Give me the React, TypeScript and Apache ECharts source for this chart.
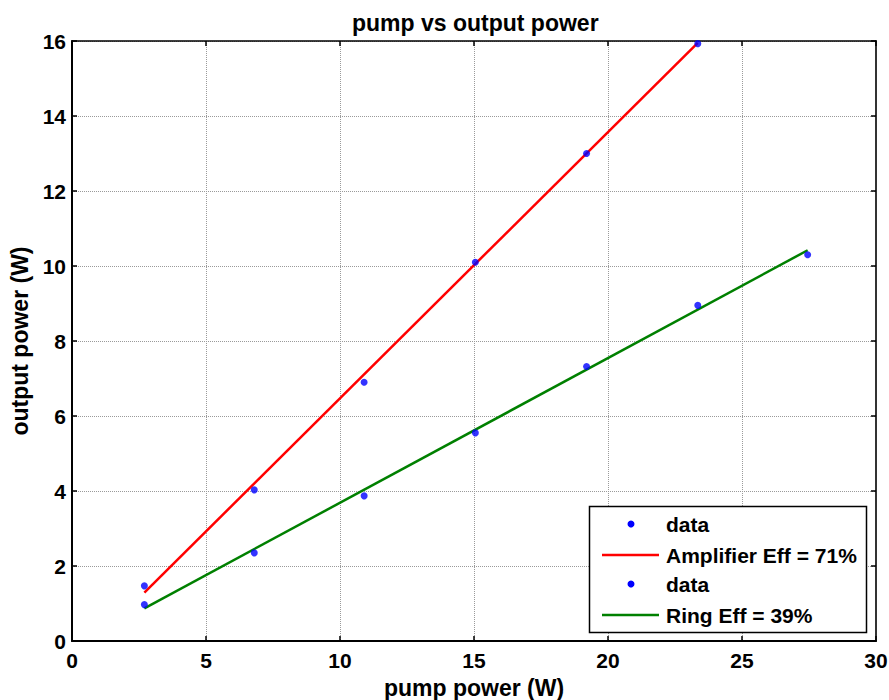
import React, { useEffect, useRef } from "react";
import * as echarts from "echarts";

const ampPump = [2.7, 6.8, 10.9, 15.05, 19.2, 23.35];
const ampOut = [1.47, 4.03, 6.9, 10.1, 13.0, 15.93];
const ringPump = [2.7, 6.8, 10.9, 15.05, 19.2, 23.35, 27.45];
const ringOut = [0.97, 2.35, 3.87, 5.55, 7.32, 8.95, 10.3];
const ampFitX = [2.7, 23.35];
const ampFitY = [1.29, 15.95];
const ringFitX = [2.7, 27.45];
const ringFitY = [0.87, 10.42];
const legendLabels = ["data", "Amplifier Eff = 71%", "data", "Ring Eff = 39%"];

const FONT = "'Liberation Sans', Arial, Helvetica, sans-serif";

export default function App() {
  const ref = useRef<HTMLDivElement>(null);
  useEffect(() => {
    if (!ref.current) return;
    const chart = echarts.init(ref.current, undefined, { renderer: "svg" });
    const zip = (xs: number[], ys: number[]) => xs.map((x, i) => [x, ys[i]]);
    const gridLine = { show: true, lineStyle: { color: "#9a9a9a", type: [1, 1] as any, width: 1 } };
    const legendRows = [524, 555, 584, 615];
    const legendGraphics: any[] = [
      {
        type: "rect",
        shape: { x: 589.5, y: 506.5, width: 277, height: 126 },
        style: { fill: "#fff", stroke: "#000", lineWidth: 1.5 },
        z: 100,
      },
    ];
    legendRows.forEach((y, i) => {
      if (i % 2 === 0) {
        legendGraphics.push({ type: "circle", shape: { cx: 631, cy: y, r: 3.5 }, style: { fill: "#0000ff" }, z: 101 });
      } else {
        legendGraphics.push({
          type: "line",
          shape: { x1: 602, y1: y, x2: 659, y2: y },
          style: { stroke: i === 1 ? "#ff0000" : "#008000", lineWidth: 2.5 },
          z: 101,
        });
      }
      legendGraphics.push({
        type: "text",
        x: 666,
        y,
        style: { text: legendLabels[i], font: `bold 21px ${FONT}`, fill: "#000", verticalAlign: "middle" },
        z: 101,
      });
    });
    chart.setOption({
      animation: false,
      backgroundColor: "#fff",
      textStyle: { fontFamily: FONT },
      title: {
        text: "pump vs output power",
        left: 347,
        top: 6,
        textStyle: { fontSize: 23, fontWeight: "bold", color: "#000", fontFamily: FONT },
      },
      grid: { left: 72, right: 13, top: 41, bottom: 59, outerBoundsMode: "none", containLabel: false },
      xAxis: [
        {
          type: "value",
          min: 0,
          max: 30,
          interval: 5,
          position: "bottom",
          name: "pump power (W)",
          nameLocation: "middle",
          nameGap: 35,
          nameTextStyle: { fontSize: 23, fontWeight: "bold", color: "#000", fontFamily: FONT },
          axisLine: { show: true, onZero: false, lineStyle: { color: "#000", width: 2 } },
          axisTick: { show: true, inside: true, length: 5, lineStyle: { color: "#000", width: 1.5 } },
          axisLabel: { fontSize: 21, fontWeight: "bold", color: "#000", margin: 9, fontFamily: FONT },
          splitLine: gridLine,
        },
        {
          type: "value",
          min: 0,
          max: 30,
          interval: 5,
          position: "top",
          axisLine: { show: true, onZero: false, lineStyle: { color: "#000", width: 1.5 } },
          axisTick: { show: true, inside: true, length: 5, lineStyle: { color: "#000", width: 1.5 } },
          axisLabel: { show: false },
          splitLine: { show: false },
        },
      ],
      yAxis: [
        {
          type: "value",
          min: 0,
          max: 16,
          interval: 2,
          position: "left",
          name: "output power (W)",
          nameLocation: "middle",
          nameGap: 41,
          nameTextStyle: { fontSize: 23, fontWeight: "bold", color: "#000", fontFamily: FONT },
          axisLine: { show: true, onZero: false, lineStyle: { color: "#000", width: 2 } },
          axisTick: { show: true, inside: true, length: 5, lineStyle: { color: "#000", width: 1.5 } },
          axisLabel: { fontSize: 21, fontWeight: "bold", color: "#000", margin: 6, fontFamily: FONT },
          splitLine: gridLine,
        },
        {
          type: "value",
          min: 0,
          max: 16,
          interval: 2,
          position: "right",
          axisLine: { show: true, onZero: false, lineStyle: { color: "#333", width: 2 } },
          axisTick: { show: true, inside: true, length: 5, lineStyle: { color: "#000", width: 1.5 } },
          axisLabel: { show: false },
          splitLine: { show: false },
        },
      ],
      series: [
        {
          name: "Amplifier Eff = 71%",
          type: "line",
          data: zip(ampFitX, ampFitY),
          showSymbol: false,
          symbol: "none",
          lineStyle: { color: "#ff0000", width: 2.5 },
          z: 2,
        },
        {
          name: "Ring Eff = 39%",
          type: "line",
          data: zip(ringFitX, ringFitY),
          showSymbol: false,
          symbol: "none",
          lineStyle: { color: "#008000", width: 2.5 },
          z: 2,
        },
        {
          name: "data",
          type: "scatter",
          data: zip(ampPump, ampOut),
          symbol: "circle",
          symbolSize: 7,
          itemStyle: { color: "#0000ff" },
          z: 3,
        },
        {
          name: "data2",
          type: "scatter",
          data: zip(ringPump, ringOut),
          symbol: "circle",
          symbolSize: 7,
          itemStyle: { color: "#0000ff" },
          z: 3,
        },
      ],
      graphic: legendGraphics,
    });
    return () => chart.dispose();
  }, []);
  return (
    <div
      ref={ref}
      style={{ position: "absolute", left: 0, top: 0, width: 889, height: 700 }}
    />
  );
}
